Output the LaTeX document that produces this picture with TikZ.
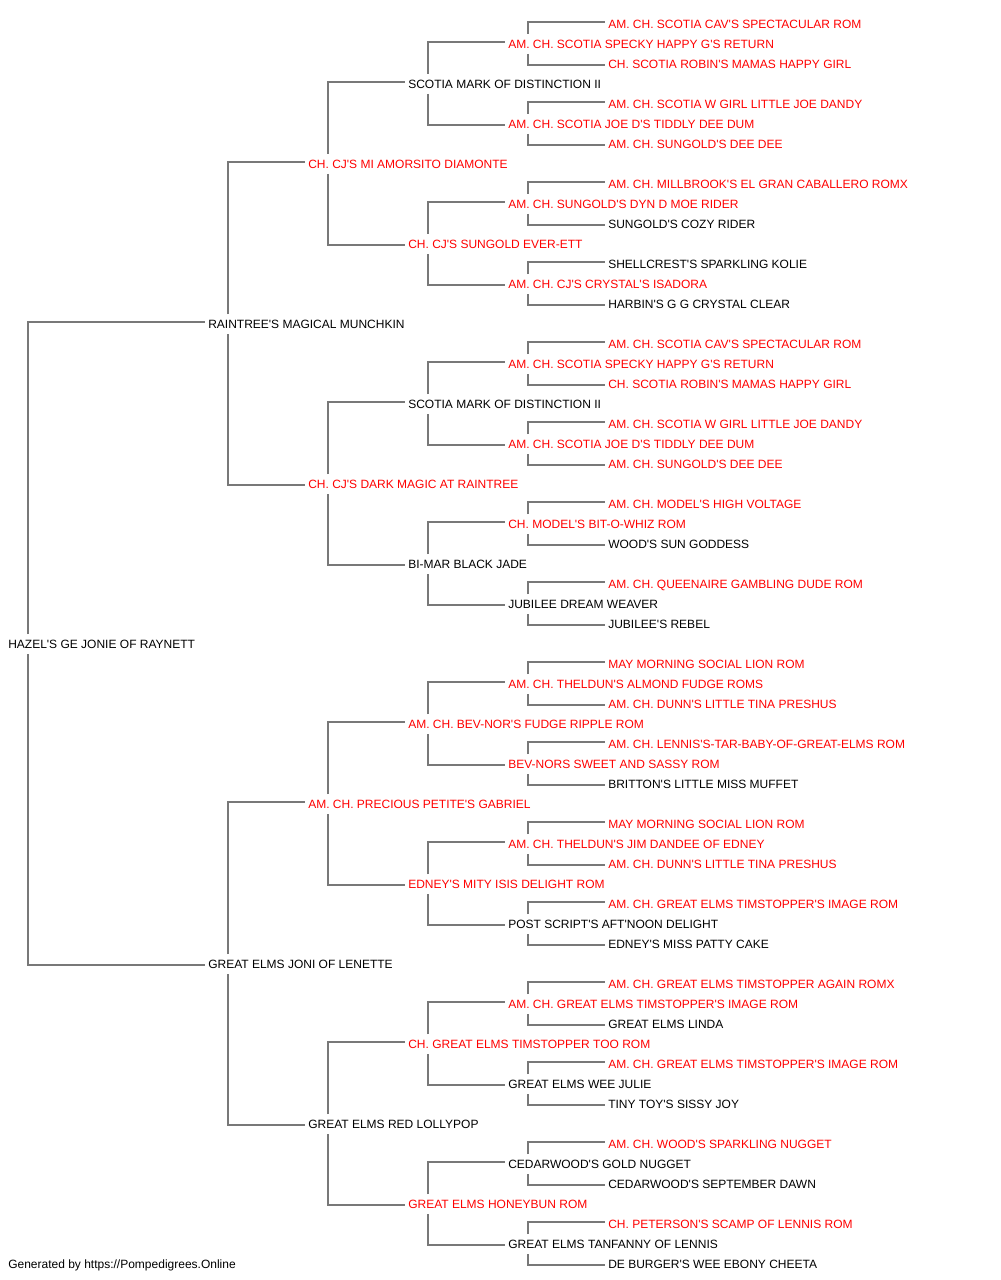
\documentclass[tikz,border=0pt]{standalone}
\usepackage{fontspec}
\setmainfont{Liberation Sans}[Ligatures=TeXOff]
\usetikzlibrary{calc}
\definecolor{linegray}{RGB}{120,120,120}
\definecolor{pedred}{RGB}{255,0,0}
\begin{document}
\begin{tikzpicture}[x=0.75pt,y=-0.75pt,
  nm/.style={anchor=west,inner sep=0pt,text height=6.45pt,text depth=0pt,font=\fontsize{9}{11}\selectfont,text=black},
  rd/.style={nm,text=pedred},
  conn/.style={draw=linegray,line width=1pt}]
\useasboundingbox[fill=white] (0,0) rectangle (1000,1280);
% generation 0
\node[nm] (n31) at (8,644) {HAZEL'S GE JONIE OF RAYNETT};
% generation 1
\node[nm] (n15) at (208,324) {RAINTREE'S MAGICAL MUNCHKIN};
\node[nm] (n47) at (208,964) {GREAT ELMS JONI OF LENETTE};
% generation 2
\node[rd] (n7)  at (308,164)  {CH. CJ'S MI AMORSITO DIAMONTE};
\node[rd] (n23) at (308,484)  {CH. CJ'S DARK MAGIC AT RAINTREE};
\node[rd] (n39) at (308,804)  {AM. CH. PRECIOUS PETITE'S GABRIEL};
\node[nm] (n55) at (308,1124) {GREAT ELMS RED LOLLYPOP};
% generation 3
\node[nm] (n3)  at (408,84)   {SCOTIA MARK OF DISTINCTION II};
\node[rd] (n11) at (408,244)  {CH. CJ'S SUNGOLD EVER-ETT};
\node[nm] (n19) at (408,404)  {SCOTIA MARK OF DISTINCTION II};
\node[nm] (n27) at (408,564)  {BI-MAR BLACK JADE};
\node[rd] (n35) at (408,724)  {AM. CH. BEV-NOR'S FUDGE RIPPLE ROM};
\node[rd] (n43) at (408,884)  {EDNEY'S MITY ISIS DELIGHT ROM};
\node[rd] (n51) at (408,1044) {CH. GREAT ELMS TIMSTOPPER TOO ROM};
\node[rd] (n59) at (408,1204) {GREAT ELMS HONEYBUN ROM};
% generation 4
\node[rd] (n1)  at (508,44)   {AM. CH. SCOTIA SPECKY HAPPY G'S RETURN};
\node[rd] (n5)  at (508,124)  {AM. CH. SCOTIA JOE D'S TIDDLY DEE DUM};
\node[rd] (n9)  at (508,204)  {AM. CH. SUNGOLD'S DYN D MOE RIDER};
\node[rd] (n13) at (508,284)  {AM. CH. CJ'S CRYSTAL'S ISADORA};
\node[rd] (n17) at (508,364)  {AM. CH. SCOTIA SPECKY HAPPY G'S RETURN};
\node[rd] (n21) at (508,444)  {AM. CH. SCOTIA JOE D'S TIDDLY DEE DUM};
\node[rd] (n25) at (508,524)  {CH. MODEL'S BIT-O-WHIZ ROM};
\node[nm] (n29) at (508,604)  {JUBILEE DREAM WEAVER};
\node[rd] (n33) at (508,684)  {AM. CH. THELDUN'S ALMOND FUDGE ROMS};
\node[rd] (n37) at (508,764)  {BEV-NORS SWEET AND SASSY ROM};
\node[rd] (n41) at (508,844)  {AM. CH. THELDUN'S JIM DANDEE OF EDNEY};
\node[nm] (n45) at (508,924)  {POST SCRIPT'S AFT'NOON DELIGHT};
\node[rd] (n49) at (508,1004) {AM. CH. GREAT ELMS TIMSTOPPER'S IMAGE ROM};
\node[nm] (n53) at (508,1084) {GREAT ELMS WEE JULIE};
\node[nm] (n57) at (508,1164) {CEDARWOOD'S GOLD NUGGET};
\node[nm] (n61) at (508,1244) {GREAT ELMS TANFANNY OF LENNIS};
% generation 5
\node[rd] (n0)  at (608,24)   {AM. CH. SCOTIA CAV'S SPECTACULAR ROM};
\node[rd] (n2)  at (608,64)   {CH. SCOTIA ROBIN'S MAMAS HAPPY GIRL};
\node[rd] (n4)  at (608,104)  {AM. CH. SCOTIA W GIRL LITTLE JOE DANDY};
\node[rd] (n6)  at (608,144)  {AM. CH. SUNGOLD'S DEE DEE};
\node[rd] (n8)  at (608,184)  {AM. CH. MILLBROOK'S EL GRAN CABALLERO ROMX};
\node[nm] (n10) at (608,224)  {SUNGOLD'S COZY RIDER};
\node[nm] (n12) at (608,264)  {SHELLCREST'S SPARKLING KOLIE};
\node[nm] (n14) at (608,304)  {HARBIN'S G G CRYSTAL CLEAR};
\node[rd] (n16) at (608,344)  {AM. CH. SCOTIA CAV'S SPECTACULAR ROM};
\node[rd] (n18) at (608,384)  {CH. SCOTIA ROBIN'S MAMAS HAPPY GIRL};
\node[rd] (n20) at (608,424)  {AM. CH. SCOTIA W GIRL LITTLE JOE DANDY};
\node[rd] (n22) at (608,464)  {AM. CH. SUNGOLD'S DEE DEE};
\node[rd] (n24) at (608,504)  {AM. CH. MODEL'S HIGH VOLTAGE};
\node[nm] (n26) at (608,544)  {WOOD'S SUN GODDESS};
\node[rd] (n28) at (608,584)  {AM. CH. QUEENAIRE GAMBLING DUDE ROM};
\node[nm] (n30) at (608,624)  {JUBILEE'S REBEL};
\node[rd] (n32) at (608,664)  {MAY MORNING SOCIAL LION ROM};
\node[rd] (n34) at (608,704)  {AM. CH. DUNN'S LITTLE TINA PRESHUS};
\node[rd] (n36) at (608,744)  {AM. CH. LENNIS'S-TAR-BABY-OF-GREAT-ELMS ROM};
\node[nm] (n38) at (608,784)  {BRITTON'S LITTLE MISS MUFFET};
\node[rd] (n40) at (608,824)  {MAY MORNING SOCIAL LION ROM};
\node[rd] (n42) at (608,864)  {AM. CH. DUNN'S LITTLE TINA PRESHUS};
\node[rd] (n44) at (608,904)  {AM. CH. GREAT ELMS TIMSTOPPER'S IMAGE ROM};
\node[nm] (n46) at (608,944)  {EDNEY'S MISS PATTY CAKE};
\node[rd] (n48) at (608,984)  {AM. CH. GREAT ELMS TIMSTOPPER AGAIN ROMX};
\node[nm] (n50) at (608,1024) {GREAT ELMS LINDA};
\node[rd] (n52) at (608,1064) {AM. CH. GREAT ELMS TIMSTOPPER'S IMAGE ROM};
\node[nm] (n54) at (608,1104) {TINY TOY'S SISSY JOY};
\node[rd] (n56) at (608,1144) {AM. CH. WOOD'S SPARKLING NUGGET};
\node[nm] (n58) at (608,1184) {CEDARWOOD'S SEPTEMBER DAWN};
\node[rd] (n60) at (608,1224) {CH. PETERSON'S SCAMP OF LENNIS ROM};
\node[nm] (n62) at (608,1264) {DE BURGER'S WEE EBONY CHEETA};
% footer
\node[nm] (footer) at (8,1264) {Generated by https://Pompedigrees.Online};
% connectors
\foreach \p/\d in {31/16,15/8,47/8,7/4,23/4,39/4,55/4,
  3/2,11/2,19/2,27/2,35/2,43/2,51/2,59/2,
  1/1,5/1,9/1,13/1,17/1,21/1,25/1,29/1,33/1,37/1,41/1,45/1,49/1,53/1,57/1,61/1}{
  \pgfmathtruncatemacro{\ca}{\p-\d}
  \pgfmathtruncatemacro{\cb}{\p+\d}
  \draw[conn] ($(n\p.west)+(20,-10)$) |- ($(n\ca.west)+(-3,-2)$);
  \draw[conn] ($(n\p.west)+(20,10)$) |- ($(n\cb.west)+(-3,1)$);
}
\end{tikzpicture}
\end{document}
